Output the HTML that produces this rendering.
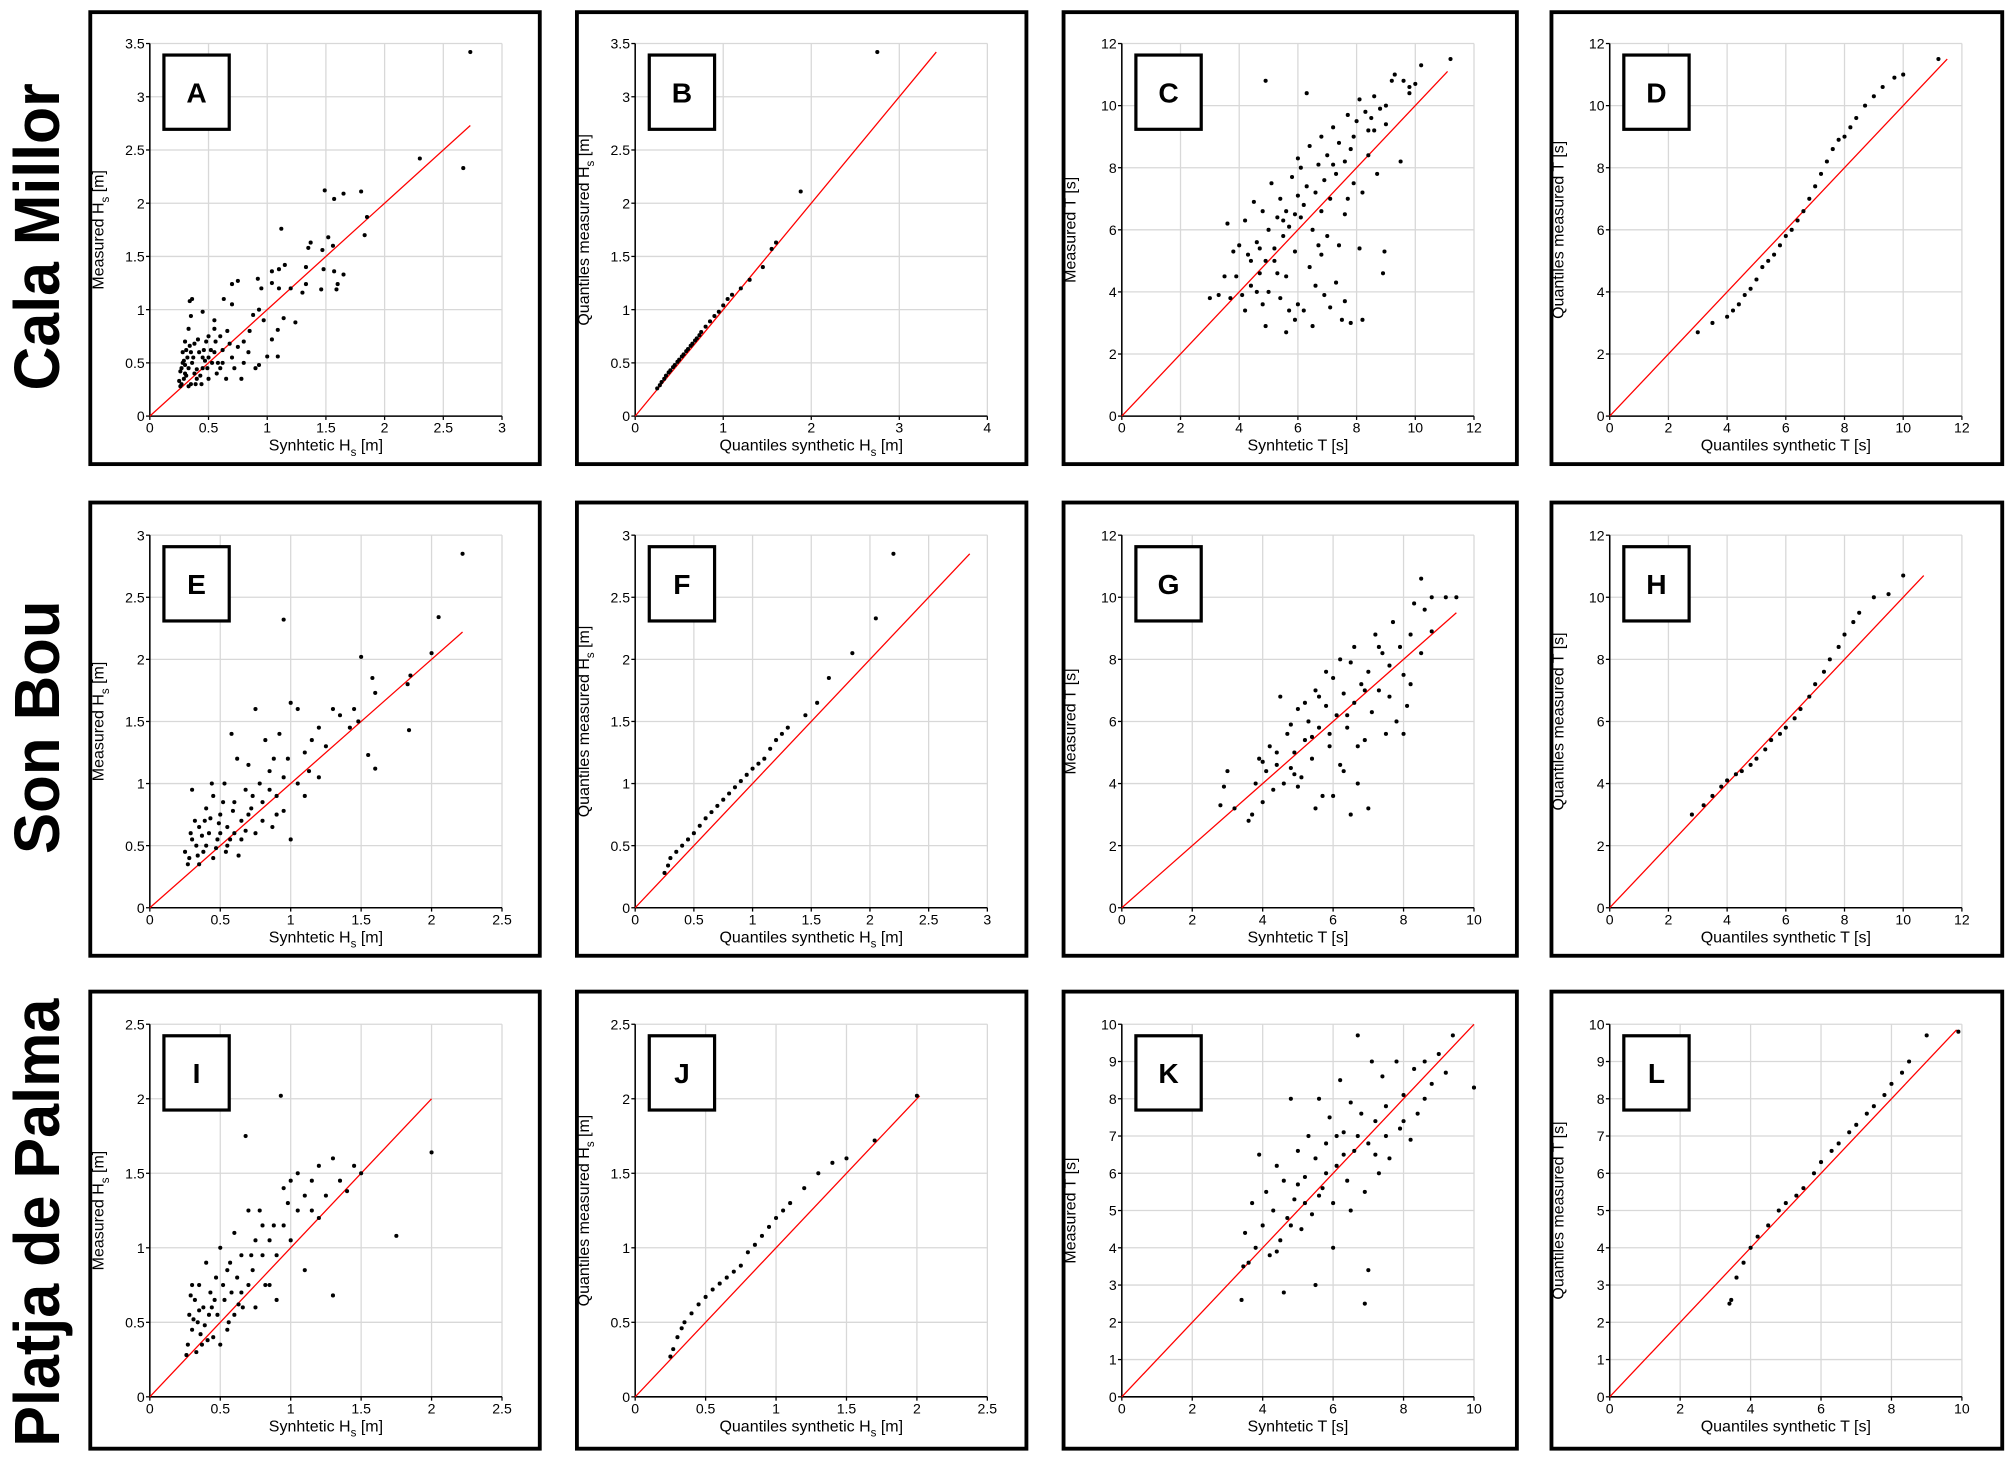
<!DOCTYPE html>
<html><head><meta charset="utf-8"><title>Hs and T comparison</title>
<style>
html,body{margin:0;padding:0;background:#fff;}
svg{display:block;font-family:"Liberation Sans",Arial,sans-serif;}
</style></head>
<body>
<svg id="fig" width="2008" height="1457" viewBox="0 0 1568 1138" preserveAspectRatio="none" xmlns="http://www.w3.org/2000/svg">
<rect x="0" y="0" width="1568" height="1138" fill="#fff"/>
<text transform="translate(46,185) rotate(-90)" text-anchor="middle" font-size="50" font-weight="bold" textLength="240" lengthAdjust="spacingAndGlyphs">Cala Millor</text>
<text transform="translate(46,568) rotate(-90)" text-anchor="middle" font-size="50" font-weight="bold" textLength="198" lengthAdjust="spacingAndGlyphs">Son Bou</text>
<text transform="translate(46,955) rotate(-90)" text-anchor="middle" font-size="50" font-weight="bold" textLength="350" lengthAdjust="spacingAndGlyphs">Platja de Palma</text>
</svg>
<script>
// ---- data (measured vs synthetic) ----
const ptsA = [[2.73,3.42],[2.67,2.33],[2.3,2.42],[1.8,2.11],[1.65,2.09],[1.57,2.04],[1.49,2.12],[1.83,1.7],[1.85,1.87],[1.12,1.76],[1.52,1.68],[1.37,1.63],[1.35,1.58],[1.47,1.56],[1.56,1.6],[1.48,1.38],[1.57,1.36],[1.65,1.33],[1.6,1.24],[1.59,1.19],[1.46,1.19],[1.33,1.24],[1.3,1.16],[1.33,1.4],[1.15,1.42],[1.1,1.38],[1.04,1.36],[1.04,1.25],[1.1,1.2],[1.2,1.2],[1.24,0.88],[1.14,0.92],[1.09,0.81],[1.09,0.56],[1.0,0.56],[1.04,0.72],[0.92,1.29],[0.95,1.2],[0.93,1.0],[0.97,0.9],[0.9,0.45],[0.93,0.48],[0.88,0.95],[0.85,0.8],[0.8,0.7],[0.75,1.27],[0.7,1.24],[0.7,1.05],[0.63,1.1],[0.55,0.9],[0.5,0.75],[0.45,0.98],[0.36,1.1],[0.34,1.08],[0.35,0.94],[0.33,0.82],[0.3,0.7],[0.28,0.5],[0.3,0.4],[0.35,0.3],[0.4,0.35],[0.45,0.45],[0.5,0.55],[0.55,0.6],[0.6,0.45],[0.65,0.35],[0.7,0.55],[0.75,0.65],[0.8,0.5],[0.6,0.75],[0.5,0.35],[0.42,0.6],[0.38,0.68],[0.32,0.55],[0.27,0.3],[0.29,0.35],[0.26,0.42],[0.31,0.62],[0.36,0.5],[0.4,0.44],[0.44,0.3],[0.47,0.52],[0.52,0.62],[0.58,0.5],[0.62,0.62],[0.66,0.8],[0.72,0.45],[0.78,0.35],[0.84,0.6],[0.55,0.82],[0.48,0.7],[0.33,0.28],[0.28,0.6],[0.25,0.33],[0.3,0.48],[0.38,0.4],[0.43,0.38],[0.35,0.6],[0.41,0.72],[0.57,0.4],[0.27,0.45],[0.29,0.52],[0.31,0.38],[0.33,0.45],[0.37,0.55],[0.39,0.3],[0.45,0.55],[0.49,0.45],[0.53,0.5],[0.56,0.7],[0.62,0.5],[0.68,0.68],[0.46,0.62],[0.34,0.66],[0.26,0.28]];
const qqB = [[0.25,0.26],[0.28,0.29],[0.3,0.32],[0.33,0.35],[0.35,0.38],[0.38,0.41],[0.4,0.43],[0.43,0.46],[0.45,0.48],[0.48,0.51],[0.5,0.53],[0.53,0.56],[0.55,0.58],[0.58,0.61],[0.6,0.63],[0.63,0.66],[0.65,0.68],[0.68,0.71],[0.7,0.73],[0.73,0.76],[0.75,0.79],[0.8,0.84],[0.85,0.89],[0.9,0.94],[0.95,0.98],[1.0,1.04],[1.05,1.1],[1.1,1.14],[1.2,1.2],[1.3,1.28],[1.45,1.4],[1.55,1.57],[1.6,1.63],[1.88,2.11],[2.75,3.42]];
const ptsC = [[11.2,11.5],[10.2,11.3],[10,10.7],[9.8,10.6],[9.6,10.8],[9.3,11],[9.2,10.8],[9.0,10.0],[8.8,9.9],[8.6,10.3],[8.5,9.6],[8.4,9.2],[8.3,9.8],[8.1,10.2],[8.0,9.5],[7.9,9.0],[7.8,8.6],[7.7,9.7],[7.6,8.2],[7.4,8.8],[7.3,7.8],[7.2,9.3],[7.0,8.4],[6.9,7.6],[6.8,9.0],[6.7,8.1],[6.6,7.2],[6.3,10.4],[6.4,8.7],[6.3,7.4],[6.2,6.8],[6.1,8.0],[6.0,8.3],[5.9,6.5],[5.8,7.7],[5.7,6.1],[5.6,6.6],[5.5,5.8],[5.4,7.0],[5.3,6.4],[5.2,5.4],[5.1,7.5],[5.0,6.0],[4.9,5.0],[4.8,6.6],[4.7,4.6],[4.6,5.6],[4.5,6.9],[4.4,4.2],[4.3,5.2],[4.2,6.3],[4.1,3.9],[4.0,5.5],[3.9,4.5],[3.8,5.3],[3.7,3.8],[3.6,6.2],[3.5,4.5],[3.0,3.8],[3.3,3.9],[4.9,10.8],[9.5,8.2],[8.9,4.6],[8.95,5.3],[8.1,5.4],[8.2,3.1],[7.8,3.0],[7.5,3.1],[7.6,3.7],[7.3,4.3],[7.1,3.5],[6.9,3.9],[6.8,5.2],[6.6,4.2],[6.5,2.9],[6.2,3.4],[6.0,3.6],[5.9,3.1],[5.7,3.4],[5.6,2.7],[5.4,3.8],[4.9,2.9],[5.0,4.0],[4.2,3.4],[4.8,3.6],[7.0,5.8],[7.6,6.5],[8.2,7.2],[8.7,7.8],[7.7,7.0],[6.5,6.0],[6.7,5.5],[5.9,5.3],[5.3,4.6],[4.6,4.0],[7.1,7.0],[6.0,7.1],[5.6,4.5],[6.4,4.8],[7.4,5.5],[8.4,8.4],[9.0,9.4],[9.8,10.4],[8.6,9.2],[7.9,7.5],[7.2,8.1],[6.8,6.6],[6.1,6.4],[5.5,6.3],[5.2,5.0],[4.7,5.4],[4.4,5.0]];
const qqD = [[3.0,2.7],[3.5,3.0],[4.0,3.2],[4.2,3.4],[4.4,3.6],[4.6,3.9],[4.8,4.1],[5.0,4.4],[5.2,4.8],[5.4,5.0],[5.6,5.2],[5.8,5.5],[6.0,5.8],[6.2,6.0],[6.4,6.3],[6.6,6.6],[6.8,7.0],[7.0,7.4],[7.2,7.8],[7.4,8.2],[7.6,8.6],[7.8,8.9],[8.0,9.0],[8.2,9.3],[8.4,9.6],[8.7,10.0],[9.0,10.3],[9.3,10.6],[9.7,10.9],[10.0,11.0],[11.2,11.5]];
const ptsE = [[2.22,2.85],[2.05,2.34],[2.0,2.05],[1.85,1.87],[1.83,1.8],[1.84,1.43],[1.6,1.73],[1.58,1.85],[1.5,2.02],[1.55,1.23],[1.6,1.12],[1.48,1.5],[1.45,1.6],[1.42,1.45],[1.3,1.6],[1.35,1.55],[1.25,1.3],[1.2,1.45],[1.15,1.35],[1.1,1.25],[1.05,1.6],[1.0,1.65],[0.98,1.2],[0.95,2.32],[0.95,1.05],[0.92,1.4],[0.9,0.9],[0.88,1.2],[0.85,1.1],[0.82,1.35],[0.8,0.85],[0.78,1.0],[0.75,1.6],[0.72,0.8],[0.7,1.15],[0.68,0.95],[0.65,0.7],[0.62,1.2],[0.6,0.85],[0.58,1.4],[0.55,0.65],[0.53,1.0],[0.5,0.75],[0.48,0.55],[0.45,0.9],[0.42,0.6],[0.4,0.8],[0.38,0.45],[0.35,0.65],[0.33,0.5],[0.3,0.55],[0.28,0.4],[0.27,0.35],[0.3,0.95],[0.35,0.35],[0.4,0.5],[0.45,0.4],[0.5,0.6],[0.55,0.5],[0.6,0.6],[0.65,0.55],[0.7,0.75],[0.75,0.6],[0.8,0.7],[0.9,0.75],[1.0,0.55],[1.1,0.9],[1.2,1.05],[0.32,0.7],[0.37,0.58],[0.43,0.72],[0.47,0.48],[0.52,0.85],[0.57,0.55],[0.63,0.42],[0.68,0.62],[0.85,0.95],[0.95,0.78],[1.05,1.0],[1.13,1.1],[0.25,0.45],[0.29,0.6],[0.34,0.42],[0.39,0.7],[0.44,1.0],[0.49,0.68],[0.54,0.45],[0.59,0.78],[0.73,0.9],[0.87,0.65]];
const qqF = [[0.25,0.28],[0.28,0.34],[0.3,0.4],[0.35,0.45],[0.4,0.5],[0.45,0.55],[0.5,0.6],[0.55,0.66],[0.6,0.72],[0.65,0.77],[0.7,0.82],[0.75,0.87],[0.8,0.92],[0.85,0.97],[0.9,1.02],[0.95,1.07],[1.0,1.12],[1.05,1.16],[1.1,1.2],[1.15,1.28],[1.2,1.35],[1.25,1.4],[1.3,1.45],[1.45,1.55],[1.55,1.65],[1.65,1.85],[1.85,2.05],[2.05,2.33],[2.2,2.85]];
const ptsG = [[9.5,10.0],[9.2,10.0],[8.8,10.0],[8.6,9.6],[8.5,10.6],[8.3,9.8],[8.2,8.8],[8.1,6.5],[8.0,7.5],[7.9,8.4],[7.7,9.2],[7.6,7.8],[7.5,5.6],[7.4,8.2],[7.3,7.0],[7.2,8.8],[7.1,6.3],[7.0,7.6],[6.9,5.4],[6.8,7.2],[6.7,4.0],[6.6,6.6],[6.5,7.9],[6.4,5.8],[6.3,6.9],[6.2,4.6],[6.1,6.2],[6.0,7.4],[5.9,5.2],[5.8,6.5],[5.7,3.6],[5.6,5.8],[5.5,7.0],[5.4,4.8],[5.3,6.0],[5.2,5.4],[5.1,4.2],[5.0,6.4],[4.9,5.0],[4.8,4.5],[4.7,5.6],[4.6,4.0],[4.5,6.8],[4.4,4.6],[4.3,3.8],[4.2,5.2],[4.1,4.4],[4.0,3.4],[3.9,4.8],[3.8,4.0],[3.7,3.0],[3.6,2.8],[3.2,3.2],[3.0,4.4],[2.9,3.9],[2.8,3.3],[7.0,3.2],[6.5,3.0],[6.0,3.6],[5.5,3.2],[7.8,6.0],[8.2,7.2],[8.5,8.2],[8.8,8.9],[6.6,8.4],[6.2,8.0],[5.8,7.6],[5.6,6.8],[5.2,6.6],[4.8,5.9],[7.3,8.4],[6.9,7.0],[6.4,6.2],[5.9,5.6],[5.4,5.5],[4.9,4.3],[4.4,5.0],[4.0,4.7],[7.6,6.8],[8.0,5.6],[6.7,5.2],[6.3,4.4],[5.0,3.9]];
const qqH = [[2.8,3.0],[3.2,3.3],[3.5,3.6],[3.8,3.9],[4.0,4.1],[4.3,4.3],[4.5,4.4],[4.8,4.6],[5.0,4.8],[5.3,5.1],[5.5,5.4],[5.8,5.6],[6.0,5.8],[6.3,6.1],[6.5,6.4],[6.8,6.8],[7.0,7.2],[7.3,7.6],[7.5,8.0],[7.8,8.4],[8.0,8.8],[8.3,9.2],[8.5,9.5],[9.0,10.0],[9.5,10.1],[10.0,10.7]];
const ptsI = [[2.0,1.64],[1.75,1.08],[1.5,1.5],[1.45,1.55],[1.4,1.38],[1.35,1.45],[1.3,1.6],[1.3,0.68],[1.25,1.35],[1.2,1.55],[1.2,1.2],[1.15,1.45],[1.1,0.85],[1.1,1.35],[1.05,1.5],[1.0,1.45],[1.0,1.05],[0.98,1.3],[0.95,1.4],[0.93,2.02],[0.9,0.95],[0.88,1.15],[0.85,1.05],[0.82,0.75],[0.8,0.95],[0.78,1.25],[0.75,1.05],[0.73,0.85],[0.7,1.25],[0.7,0.75],[0.68,1.75],[0.66,0.6],[0.65,0.95],[0.62,0.8],[0.6,1.1],[0.58,0.7],[0.56,0.5],[0.55,0.85],[0.53,0.65],[0.5,1.0],[0.48,0.55],[0.47,0.8],[0.45,0.4],[0.43,0.7],[0.42,0.55],[0.4,0.9],[0.38,0.6],[0.37,0.35],[0.35,0.75],[0.34,0.5],[0.33,0.3],[0.32,0.65],[0.3,0.45],[0.3,0.75],[0.28,0.55],[0.27,0.35],[0.26,0.28],[0.5,0.35],[0.55,0.45],[0.6,0.55],[0.65,0.7],[0.75,0.6],[0.85,0.75],[0.9,0.65],[0.44,0.6],[0.36,0.42],[0.31,0.52],[0.39,0.48],[0.52,0.75],[0.57,0.9],[0.63,0.62],[0.72,0.95],[0.8,1.15],[0.95,1.15],[1.05,1.25],[1.15,1.25],[0.29,0.68],[0.35,0.58],[0.41,0.38],[0.46,0.65]];
const qqJ = [[0.25,0.27],[0.27,0.32],[0.3,0.4],[0.33,0.46],[0.35,0.5],[0.4,0.56],[0.45,0.62],[0.5,0.67],[0.55,0.72],[0.6,0.76],[0.65,0.8],[0.7,0.84],[0.75,0.88],[0.8,0.97],[0.85,1.02],[0.9,1.08],[0.95,1.14],[1.0,1.2],[1.05,1.25],[1.1,1.3],[1.2,1.4],[1.3,1.5],[1.4,1.57],[1.5,1.6],[1.7,1.72],[2.0,2.02]];
const ptsK = [[10.0,8.3],[9.4,9.7],[9.2,8.7],[9.0,9.2],[8.8,8.4],[8.6,9.0],[8.4,7.6],[8.3,8.8],[8.2,6.9],[8.0,8.1],[7.9,7.2],[7.8,9.0],[7.6,6.4],[7.5,7.8],[7.4,8.6],[7.3,6.0],[7.2,7.4],[7.1,9.0],[7.0,6.8],[6.9,5.5],[6.8,7.6],[6.7,9.7],[6.6,6.6],[6.5,7.9],[6.4,5.8],[6.3,7.1],[6.2,8.5],[6.1,6.2],[6.0,5.2],[5.9,7.5],[5.8,6.8],[5.7,5.6],[5.6,8.0],[5.5,6.4],[5.4,4.9],[5.3,7.0],[5.2,5.9],[5.1,4.5],[5.0,6.6],[4.9,5.3],[4.8,8.0],[4.7,4.8],[4.6,5.8],[4.5,4.2],[4.4,6.2],[4.3,5.0],[4.2,3.8],[4.1,5.5],[4.0,4.6],[3.9,6.5],[3.8,4.0],[3.7,5.2],[3.6,3.6],[3.5,4.4],[3.45,3.5],[3.4,2.6],[4.6,2.8],[5.5,3.0],[6.0,4.0],[7.0,3.4],[6.9,2.5],[6.5,5.0],[7.5,7.0],[8.0,7.4],[8.6,8.0],[5.8,6.0],[5.2,5.2],[4.8,4.6],[4.4,3.9],[6.3,6.5],[6.7,7.0],[7.2,6.5],[5.0,5.7],[5.6,5.4],[6.1,7.0]];
const qqL = [[3.4,2.5],[3.45,2.6],[3.6,3.2],[3.8,3.6],[4.0,4.0],[4.2,4.3],[4.5,4.6],[4.8,5.0],[5.0,5.2],[5.3,5.4],[5.5,5.6],[5.8,6.0],[6.0,6.3],[6.3,6.6],[6.5,6.8],[6.8,7.1],[7.0,7.3],[7.3,7.6],[7.5,7.8],[7.8,8.1],[8.0,8.4],[8.3,8.7],[8.5,9.0],[9.0,9.7],[9.9,9.8]];
// identity-line extents
const lineMax = {A:2.73,B:3.42,C:11.1,D:11.5,E:2.22,F:2.85,G:9.5,H:10.7,I:2.0,J:2.02,K:10.0,L:9.85};
// tick labels
const ticksHs05 = ["0","0.5","1","1.5","2","2.5","3","3.5"];
const ticksT2 = ["0","2","4","6","8","10","12"];
const ticksT1 = ["0","1","2","3","4","5","6","7","8","9","10"];

const NS = "http://www.w3.org/2000/svg";
const svg = document.getElementById('fig');
function mk(tag, attrs, parent){
  const e = document.createElementNS(NS, tag);
  for (const k in attrs) e.setAttribute(k, attrs[k]);
  (parent||svg).appendChild(e);
  return e;
}
const cols = [{bx:69,bw:354,px:117},{bx:449,bw:354,px:496},{bx:829,bw:357,px:876},{bx:1210,bw:355,px:1257}];
const rows = [{by:8,bh:356,py:34},{by:391,bh:357,py:418},{by:773,bh:360,py:800}];
const PW = 275, PH = 291;

function hsTitle(g, x, y, rot, prefix){
  const t = mk('text', {x:x, y:y, 'text-anchor':'middle', 'font-size':12.5, transform: rot?`rotate(-90 ${x} ${y})`:''}, g);
  t.appendChild(document.createTextNode(prefix + 'H'));
  const s = mk('tspan', {dy:4, 'font-size':9}, t); s.textContent = 's';
  const r = mk('tspan', {dy:-4}, t); r.textContent = ' [m]';
  return t;
}

function panel(letter, ri, ci, cfg){
  const c = cols[ci], r = rows[ri];
  const g = mk('g', {});
  
  
  const box = mk('rect', {x:c.bx+1.5, y:r.by+1.5, width:c.bw-3, height:r.bh-3, fill:'#fff', stroke:'#000', 'stroke-width':3}, g);
  
  
  const L = c.px, T = r.py, B = T + PH, R = L + PW;
  const sx = v => L + (v - cfg.x0) / (cfg.x1 - cfg.x0) * PW;
  const sy = v => B - (v - cfg.y0) / (cfg.y1 - cfg.y0) * PH;
  cfg.xt.forEach(lbl => {
    const v = parseFloat(lbl), X = sx(v);
    mk('line', {x1:X, y1:T, x2:X, y2:B, stroke:'#d8d8d8', 'stroke-width':1}, g);
    mk('line', {x1:X, y1:B, x2:X, y2:B+3, stroke:'#000', 'stroke-width':1}, g);
    const t = mk('text', {x:X, y:B+13, 'text-anchor':'middle', 'font-size':11}, g);
    t.textContent = lbl;
    
    
  });
  cfg.yt.forEach(lbl => {
    const v = parseFloat(lbl), Y = sy(v);
    mk('line', {x1:L, y1:Y, x2:R, y2:Y, stroke:'#d8d8d8', 'stroke-width':1}, g);
    mk('line', {x1:L-3, y1:Y, x2:L, y2:Y, stroke:'#000', 'stroke-width':1}, g);
    const t = mk('text', {x:L-4, y:Y+4, 'text-anchor':'end', 'font-size':11}, g);
    t.textContent = lbl;
    
    
  });
  mk('line', {x1:L, y1:T, x2:L, y2:B, stroke:'#000', 'stroke-width':1.2}, g);
  mk('line', {x1:L, y1:B, x2:R, y2:B, stroke:'#000', 'stroke-width':1.2}, g);
  const m = lineMax[letter];
  const ln = mk('line', {x1:sx(0), y1:sy(0), x2:sx(m), y2:sy(m), stroke:'#ff0000', 'stroke-width':1}, g);
  
  
  cfg.pts.forEach(p => {
    const d = mk('circle', {cx:sx(p[0]), cy:sy(p[1]), r:1.6, fill:'#000'}, g);
    
    
  });
  const lb = mk('rect', {x:L+11, y:T+9, width:51, height:58, fill:'#fff', stroke:'#000', 'stroke-width':2.5}, g);
  
  
  const lt = mk('text', {x:L+36.5, y:T+46, 'text-anchor':'middle', 'font-size':22, 'font-weight':'bold'}, g);
  lt.textContent = letter;
  
  
  const cx = L + PW/2, ty = B + 27, yx = L - 36, yy = T + PH/2;
  let xt, yt;
  if (cfg.kind === 'hs'){
    xt = hsTitle(g, cx, ty, false, 'Synhtetic ');
    yt = hsTitle(g, yx, yy, true, 'Measured ');
  } else if (cfg.kind === 'qhs'){
    xt = hsTitle(g, cx, ty, false, 'Quantiles synthetic ');
    yt = hsTitle(g, yx, yy, true, 'Quantiles measured ');
  } else if (cfg.kind === 't'){
    xt = mk('text', {x:cx, y:ty, 'text-anchor':'middle', 'font-size':12.5}, g); xt.textContent = 'Synhtetic T [s]';
    yt = mk('text', {x:yx, y:yy, 'text-anchor':'middle', 'font-size':12.5, transform:`rotate(-90 ${yx} ${yy})`}, g); yt.textContent = 'Measured T [s]';
  } else {
    xt = mk('text', {x:cx, y:ty, 'text-anchor':'middle', 'font-size':12.5}, g); xt.textContent = 'Quantiles synthetic T [s]';
    yt = mk('text', {x:yx, y:yy, 'text-anchor':'middle', 'font-size':12.5, transform:`rotate(-90 ${yx} ${yy})`}, g); yt.textContent = 'Quantiles measured T [s]';
  }
  
  
  
  
}

panel('A',0,0,{kind:'hs', x0:0,x1:3, y0:0,y1:3.5, xt:ticksHs05.slice(0,7), yt:ticksHs05, pts:ptsA});
panel('B',0,1,{kind:'qhs', x0:0,x1:4, y0:0,y1:3.5, xt:["0","1","2","3","4"], yt:ticksHs05, pts:qqB});
panel('C',0,2,{kind:'t', x0:0,x1:12, y0:0,y1:12, xt:ticksT2, yt:ticksT2, pts:ptsC});
panel('D',0,3,{kind:'qt', x0:0,x1:12, y0:0,y1:12, xt:ticksT2, yt:ticksT2, pts:qqD});
panel('E',1,0,{kind:'hs', x0:0,x1:2.5, y0:0,y1:3, xt:ticksHs05.slice(0,6), yt:ticksHs05.slice(0,7), pts:ptsE});
panel('F',1,1,{kind:'qhs', x0:0,x1:3, y0:0,y1:3, xt:ticksHs05.slice(0,7), yt:ticksHs05.slice(0,7), pts:qqF});
panel('G',1,2,{kind:'t', x0:0,x1:10, y0:0,y1:12, xt:ticksT2.slice(0,6), yt:ticksT2, pts:ptsG});
panel('H',1,3,{kind:'qt', x0:0,x1:12, y0:0,y1:12, xt:ticksT2, yt:ticksT2, pts:qqH});
panel('I',2,0,{kind:'hs', x0:0,x1:2.5, y0:0,y1:2.5, xt:ticksHs05.slice(0,6), yt:ticksHs05.slice(0,6), pts:ptsI});
panel('J',2,1,{kind:'qhs', x0:0,x1:2.5, y0:0,y1:2.5, xt:ticksHs05.slice(0,6), yt:ticksHs05.slice(0,6), pts:qqJ});
panel('K',2,2,{kind:'t', x0:0,x1:10, y0:0,y1:10, xt:ticksT2.slice(0,6), yt:ticksT1, pts:ptsK});
panel('L',2,3,{kind:'qt', x0:0,x1:10, y0:0,y1:10, xt:ticksT2.slice(0,6), yt:ticksT1, pts:qqL});
</script>
</body></html>
